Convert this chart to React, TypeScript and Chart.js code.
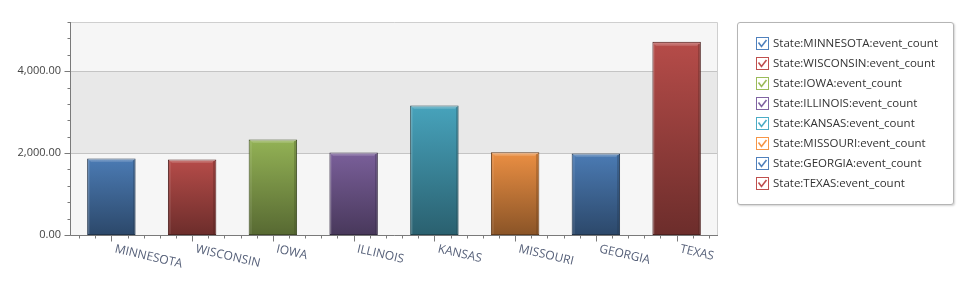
import React, { useEffect, useRef } from "react";
import { Chart, registerables } from "chart.js";

Chart.register(...registerables);

const states = ["MINNESOTA", "WISCONSIN", "IOWA", "ILLINOIS", "KANSAS", "MISSOURI", "GEORGIA", "TEXAS"];
const eventCounts = [1870, 1846, 2334, 2017, 3163, 2020, 1992, 4715];
const yTickValues = [0, 2000, 4000];
const yMin = 0;
const yMax = 5200;
const yMinorStep = 400;
const legendLabels = states.map((s) => `State:${s}:event_count`);
const palette = ["#4F81BD", "#C0504D", "#9BBB59", "#8064A2", "#4BACC6", "#F79646", "#4F81BD", "#C0504D"];

const FONT = "'Open Sans', 'Noto Sans', sans-serif";

function shade(hex: string, f: number, a = 1): string {
  const n = parseInt(hex.slice(1), 16);
  const r = Math.round(((n >> 16) & 255) * f);
  const g = Math.round(((n >> 8) & 255) * f);
  const b = Math.round((n & 255) * f);
  return `rgba(${Math.min(255, r)},${Math.min(255, g)},${Math.min(255, b)},${a})`;
}

const decorPlugin = {
  id: "decor",
  beforeDatasetsDraw(chart: any) {
    const { ctx, chartArea } = chart;
    const { left, top, right, bottom } = chartArea;
    const y = chart.scales.y;
    ctx.save();
    ctx.fillStyle = "#f6f6f6";
    ctx.fillRect(left, top, right - left, bottom - top);
    const b1 = y.getPixelForValue(2000);
    const b2 = y.getPixelForValue(4000);
    ctx.fillStyle = "#e8e8e8";
    ctx.fillRect(left, b2, right - left, b1 - b2);
    ctx.strokeStyle = "#c4c4c4";
    ctx.lineWidth = 1;
    for (const v of yTickValues) {
      if (v === yMin) continue;
      const py = Math.round(y.getPixelForValue(v)) + 0.5;
      ctx.beginPath();
      ctx.moveTo(left, py);
      ctx.lineTo(right, py);
      ctx.stroke();
    }
    ctx.strokeStyle = "#cfcfcf";
    ctx.beginPath();
    ctx.moveTo(left, Math.round(top) + 0.5);
    ctx.lineTo(Math.round(right) + 0.5, Math.round(top) + 0.5);
    ctx.lineTo(Math.round(right) + 0.5, bottom);
    ctx.stroke();
    ctx.restore();
  },
  afterDatasetsDraw(chart: any) {
    const { ctx, chartArea } = chart;
    const { left, top, right, bottom } = chartArea;
    const x = chart.scales.x;
    const y = chart.scales.y;
    const meta = chart.getDatasetMeta(0);
    ctx.save();
    meta.data.forEach((el: any, i: number) => {
      const p = el.getProps(["x", "y", "width", "base"], true);
      const l = Math.round(p.x - p.width / 2);
      const r = Math.round(p.x + p.width / 2);
      const t = Math.round(p.y);
      const b = Math.round(p.base);
      const col = palette[i];
      const g = ctx.createLinearGradient(0, t + 1, 0, t + 5);
      g.addColorStop(0, "rgba(255,255,255,0.30)");
      g.addColorStop(1, "rgba(255,255,255,0.04)");
      ctx.fillStyle = g;
      ctx.beginPath();
      ctx.moveTo(l + 1, t + 1);
      ctx.lineTo(r - 1, t + 1);
      ctx.lineTo(r - 4, t + 4);
      ctx.lineTo(l + 4, t + 4);
      ctx.closePath();
      ctx.fill();
      ctx.fillStyle = "rgba(255,255,255,0.08)";
      ctx.fillRect(l + 1, t + 2, 2, b - t - 3);
      ctx.fillStyle = shade(col, 0.4, 0.3);
      ctx.fillRect(r - 3, t + 2, 2, b - t - 3);
    });
    ctx.strokeStyle = "#7a7a7a";
    ctx.lineWidth = 1;
    const ax = Math.round(left) - 0.5;
    const ay = Math.round(bottom) + 0.5;
    ctx.beginPath();
    ctx.moveTo(ax, Math.round(top));
    ctx.lineTo(ax, ay);
    ctx.lineTo(Math.round(right) + 1, ay);
    ctx.stroke();
    ctx.beginPath();
    for (let v = yMin; v <= yMax; v += yMinorStep) {
      const py = Math.round(y.getPixelForValue(v)) + 0.5;
      ctx.moveTo(ax - 3, py);
      ctx.lineTo(ax, py);
    }
    for (const v of yTickValues) {
      const py = Math.round(y.getPixelForValue(v)) + 0.5;
      ctx.moveTo(ax - 6, py);
      ctx.lineTo(ax, py);
    }
    ctx.stroke();
    ctx.beginPath();
    for (let i = 0; i < states.length; i++) {
      for (let k = -2; k <= 2; k++) {
        const px = Math.round(x.getPixelForValue(i + k * 0.2)) + 0.5;
        const len = k === 0 ? 6 : 3;
        ctx.moveTo(px, ay);
        ctx.lineTo(px, ay + len);
      }
    }
    ctx.stroke();
    ctx.fillStyle = "#566079";
    ctx.font = `12px ${FONT}`;
    ctx.textAlign = "left";
    ctx.textBaseline = "top";
    states.forEach((s, i) => {
      const px = x.getPixelForValue(i);
      ctx.save();
      ctx.translate(px + 5, 243);
      ctx.rotate((13 * Math.PI) / 180);
      ctx.fillText(s, 0, 0);
      ctx.restore();
    });
    ctx.restore();
  },
};

function CheckBox({ color }: { color: string }) {
  return (
    <svg width="13" height="13" viewBox="0 0 13 13" style={{ position: "absolute", left: 0, top: 0 }}>
      <rect x="0.5" y="0.5" width="12" height="12" fill="#fff" stroke={color} strokeWidth="1" />
      <path d="M2.5 5.5 L5.5 9.5 L10.5 3" fill="none" stroke={color} strokeWidth="1.6" />
    </svg>
  );
}

export default function App() {
  const canvasRef = useRef<HTMLCanvasElement | null>(null);

  useEffect(() => {
    const canvas = canvasRef.current;
    if (!canvas) return;
    Chart.defaults.font.family = FONT;
    const chart = new Chart(canvas, {
      type: "bar",
      data: {
        labels: states,
        datasets: [
          {
            label: "event_count",
            data: eventCounts,
            backgroundColor: (c: any) => {
              const ch = c.chart;
              const ys = ch.scales && ch.scales.y;
              const i = c.dataIndex;
              const col = palette[i] || palette[0];
              if (!ys || c.type !== "data") return col;
              const t = ys.getPixelForValue(eventCounts[i]);
              const b = ys.getPixelForValue(0);
              if (!isFinite(t) || !isFinite(b) || t === b) return col;
              const g = ch.ctx.createLinearGradient(0, t, 0, b);
              g.addColorStop(0, shade(col, 0.95));
              g.addColorStop(1, shade(col, 0.56));
              return g;
            },
            borderColor: palette.map((c) => shade(c, 0.4)),
            borderWidth: 1,
            borderSkipped: false,
            categoryPercentage: 1,
            barPercentage: 0.6,
          },
        ],
      },
      options: {
        responsive: false,
        animation: false,
        devicePixelRatio: 1,
        layout: { padding: { top: 22, right: 249, left: 0, bottom: 0 } },
        plugins: { legend: { display: false }, tooltip: { enabled: false } },
        scales: {
          x: {
            grid: { display: false, drawTicks: false },
            border: { display: false },
            ticks: { display: false },
            afterFit: (s: any) => {
              s.height = 51;
            },
          },
          y: {
            min: yMin,
            max: yMax,
            grid: { display: false, drawTicks: false },
            border: { display: false },
            ticks: {
              padding: 10,
              color: "#444",
              font: { size: 11, family: FONT },
              callback: (v: any) =>
                Number(v).toLocaleString("en-US", { minimumFractionDigits: 2, maximumFractionDigits: 2 }),
            },
            afterBuildTicks: (s: any) => {
              s.ticks = yTickValues.map((v) => ({ value: v }));
            },
            afterFit: (s: any) => {
              s.width = 71;
            },
          },
        },
      },
      plugins: [decorPlugin],
    } as any);
    return () => chart.destroy();
  }, []);

  return (
    <div style={{ position: "fixed", left: 0, top: 0, width: 966, height: 286, background: "#fff" }}>
      <canvas ref={canvasRef} width={966} height={286} style={{ position: "absolute", left: 0, top: 0 }} />
      <div
        style={{
          position: "absolute",
          left: 737,
          top: 22,
          width: 217,
          height: 183,
          boxSizing: "border-box",
          border: "1px solid #b5b5b5",
          borderRadius: 3,
          boxShadow: "1px 1px 2px rgba(0,0,0,0.18)",
          background: "#fff",
        }}
      >
        {legendLabels.map((t, i) => (
          <div
            key={t}
            style={{ position: "absolute", left: 18, top: 14 + i * 20, height: 13, width: 190 }}
          >
            <CheckBox color={palette[i]} />
            <span
              style={{
                position: "absolute",
                left: 17,
                top: -2,
                fontFamily: FONT,
                fontSize: 11.5,
                lineHeight: "16px",
                color: "#333",
                whiteSpace: "nowrap",
              }}
            >
              {t}
            </span>
          </div>
        ))}
      </div>
    </div>
  );
}
